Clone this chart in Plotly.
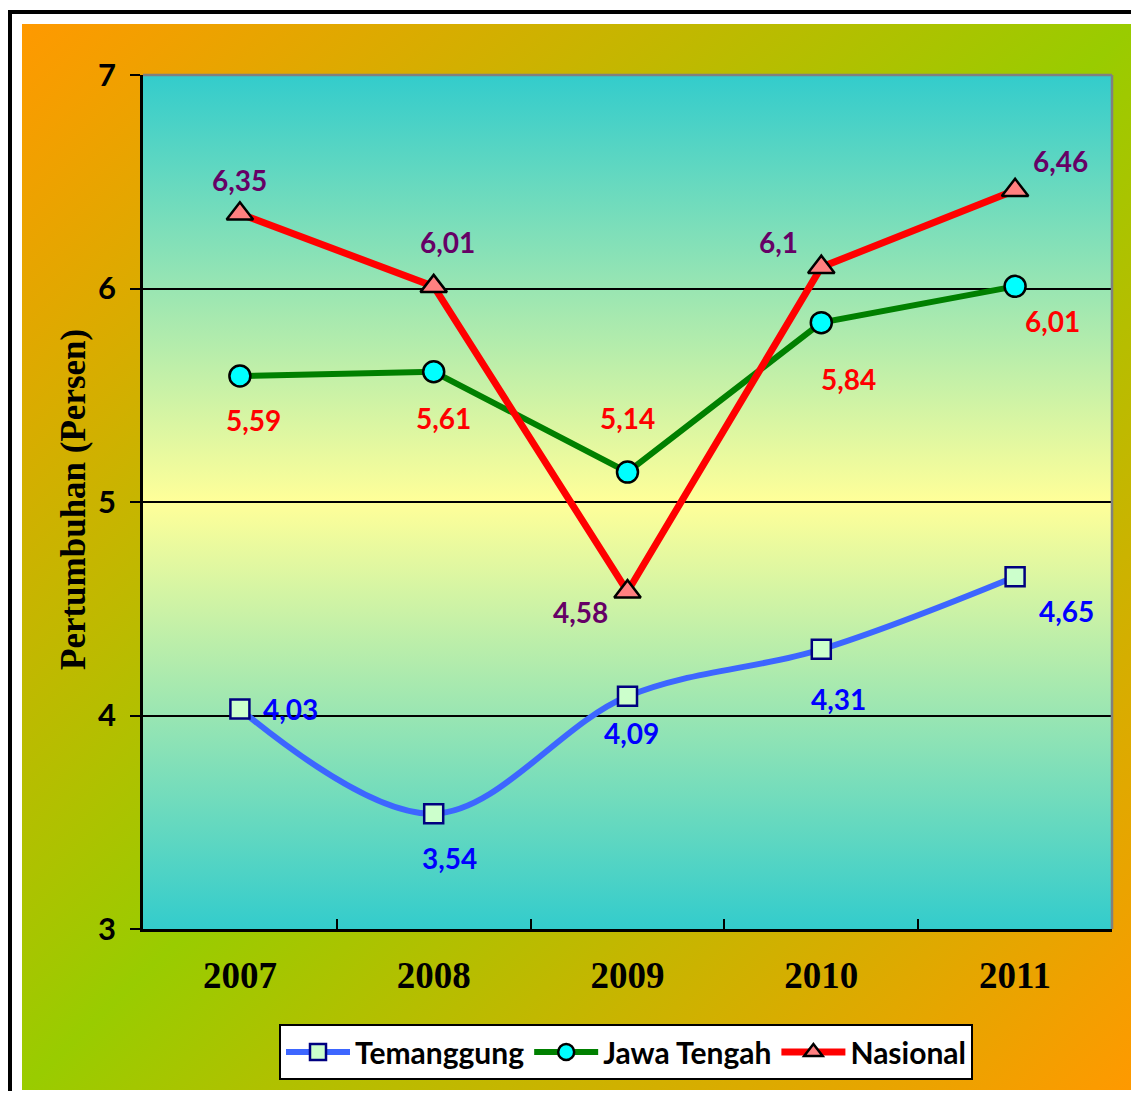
import base64
import plotly.graph_objects as go

# ---------------- data ----------------
years = ["2007", "2008", "2009", "2010", "2011"]
temanggung = [4.03, 3.54, 4.09, 4.31, 4.65]
jawa_tengah = [5.59, 5.61, 5.14, 5.84, 6.01]
nasional = [6.35, 6.01, 4.58, 6.10, 6.46]
temanggung_labels = ["4,03", "3,54", "4,09", "4,31", "4,65"]
jawa_tengah_labels = ["5,59", "5,61", "5,14", "5,84", "6,01"]
nasional_labels = ["6,35", "6,01", "4,58", "6,1", "6,46"]
y_ticks = [3, 4, 5, 6, 7]

# ---------------- layout constants (target pixels) ----------------
OFF = 8  # page body margin
W, H = 1139 - 2 * OFF, 1099 - 2 * OFF
PL, PR, PT, PB = 143, 1112, 75, 929  # plot area in target pixels


def px_x(px):
    return (px - PL) / (PR - PL)


def px_y(py):
    return (PB - py) / (PB - PT)


def svg_uri(svg):
    return "data:image/svg+xml;base64," + base64.b64encode(svg.encode()).decode()


# background: black frame, white gap, diagonal orange/green gradient
# (drawn in figure pixel space: target px - OFF)
gx0, gy0, gx1, gy1 = 22 - OFF, 24 - OFF, 1134 - OFF, 1090 - OFF
outer_svg = (
    "<svg xmlns='http://www.w3.org/2000/svg' width='%d' height='%d' "
    "viewBox='0 0 %d %d' preserveAspectRatio='none'>" % (W, H, W, H)
    + "<defs><linearGradient id='g' x1='0' y1='0' x2='1' y2='1'>"
    "<stop offset='0' stop-color='#FF9900'/>"
    "<stop offset='0.5' stop-color='#99CC00'/>"
    "<stop offset='1' stop-color='#FF9900'/>"
    "</linearGradient></defs>"
    "<rect x='0' y='0' width='%d' height='%d' fill='white'/>" % (W, H)
    + "<rect x='0' y='2' width='%d' height='4' fill='black'/>" % W
    + "<rect x='0' y='2' width='4' height='%d' fill='black'/>" % H
    + "<rect x='%d' y='%d' width='%d' height='%d' fill='url(#g)'/>"
    % (gx0, gy0, gx1 - gx0, gy1 - gy0)
    + "</svg>"
)
inner_svg = (
    "<svg xmlns='http://www.w3.org/2000/svg' width='969' height='854' "
    "viewBox='0 0 969 854' preserveAspectRatio='none'>"
    "<defs><linearGradient id='h' x1='0' y1='0' x2='0' y2='1'>"
    "<stop offset='0' stop-color='#33CCCC'/>"
    "<stop offset='0.5' stop-color='#FFFF99'/>"
    "<stop offset='1' stop-color='#33CCCC'/>"
    "</linearGradient></defs>"
    "<rect x='0' y='0' width='969' height='854' fill='url(#h)'/></svg>"
)

fig = go.Figure()

fig.add_trace(go.Scatter(
    x=years, y=temanggung, name="Temanggung", mode="lines+markers",
    line=dict(color="#3D66FF", width=6, shape="spline", smoothing=1.0),
    marker=dict(symbol="square", size=19, color="#CCFFCC",
                line=dict(color="#000080", width=2.5)),
))
fig.add_trace(go.Scatter(
    x=years, y=jawa_tengah, name="Jawa Tengah", mode="lines+markers",
    line=dict(color="#008000", width=6),
    marker=dict(symbol="circle", size=21, color="#00FFFF",
                line=dict(color="#000000", width=2.5)),
))
fig.add_trace(go.Scatter(
    x=years, y=nasional, name="Nasional", mode="lines+markers",
    line=dict(color="#FF0000", width=7),
    marker=dict(symbol="triangle-up", size=23, color="#FF8080",
                line=dict(color="#000000", width=2.5)),
))

# label offsets in pixels (dx, dy up)
tem_off = [(51, 0), (16, -44), (4, -37), (17, -50), (51, -34)]
jt_off = [(14, -44), (10, -46), (0, 54), (27, -56), (37, -35)]
nas_off = [(0, 34), (14, 44), (-47, -20), (-43, 25), (45, 29)]

annotations = []
label_font = "Lato"
for vals, labs, offs, col in [
    (temanggung, temanggung_labels, tem_off, "#0000FF"),
    (jawa_tengah, jawa_tengah_labels, jt_off, "#FF0000"),
    (nasional, nasional_labels, nas_off, "#660066"),
]:
    for i, (yv, lab, (dx, dy)) in enumerate(zip(vals, labs, offs)):
        annotations.append(dict(
            x=i, y=yv, xref="x", yref="y", text=lab,
            showarrow=False, xanchor="center", yanchor="middle",
            xshift=dx, yshift=dy,
            font=dict(family=label_font, size=28, color=col, weight="bold"),
        ))

annotations.append(dict(
    x=px_x(73), y=px_y(500), xref="paper", yref="paper",
    text="<b>Pertumbuhan (Persen)</b>", textangle=-90, showarrow=False,
    xanchor="center", yanchor="middle",
    font=dict(family="Liberation Serif", size=35, color="black"),
))

shapes = [
    # gray top and right border of the plot area
    dict(type="line", xref="paper", yref="paper", x0=0, x1=1, y0=1, y1=1,
         line=dict(color="#808080", width=2.5), layer="above"),
    dict(type="line", xref="paper", yref="paper", x0=1, x1=1, y0=0, y1=1,
         line=dict(color="#808080", width=2.5), layer="above"),
]

images = [
    dict(source=svg_uri(outer_svg), xref="paper", yref="paper",
         x=px_x(OFF), y=px_y(OFF), sizex=W / (PR - PL),
         sizey=H / (PB - PT), xanchor="left", yanchor="top",
         sizing="stretch", layer="below"),
    dict(source=svg_uri(inner_svg), xref="paper", yref="paper",
         x=0, y=1, sizex=1, sizey=1, xanchor="left", yanchor="top",
         sizing="stretch", layer="below"),
]

fig.update_layout(
    width=W, height=H,
    margin=dict(l=PL - OFF, r=W - (PR - OFF), t=PT - OFF, b=H - (PB - OFF),
                autoexpand=False),
    paper_bgcolor="white", plot_bgcolor="rgba(0,0,0,0)",
    showlegend=True,
    legend=dict(
        orientation="h", x=px_x(626), y=px_y(1024), xanchor="center",
        yanchor="top", bgcolor="white", bordercolor="black", borderwidth=2,
        font=dict(family="Lato", size=30, color="black", weight="bold"),
        itemwidth=64, tracegroupgap=0,
    ),
    annotations=annotations, shapes=shapes, images=images,
    xaxis=dict(
        type="category", range=[-0.5, 4.5], showgrid=False,
        showline=True, linecolor="black", linewidth=2.5,
        ticks="inside", tickson="boundaries", ticklen=10, tickwidth=2,
        tickcolor="black", ticklabelstandoff=12,
        tickfont=dict(family="Liberation Serif", size=37, color="black",
                      weight="bold"),
        fixedrange=True,
    ),
    yaxis=dict(
        range=[3, 7], tickvals=y_ticks, showgrid=True, gridcolor="black",
        gridwidth=2, showline=True, linecolor="black", linewidth=2.5,
        ticks="outside", ticklen=10, tickwidth=2, tickcolor="black",
        ticklabelstandoff=8, zeroline=False,
        tickfont=dict(family="Lato", size=31, color="black", weight="bold"),
        fixedrange=True,
    ),
)

fig.write_html("out.html")
